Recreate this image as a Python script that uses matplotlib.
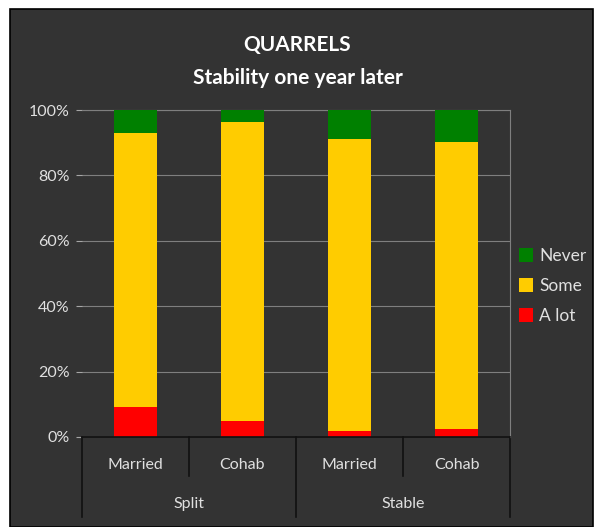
import numpy as np
import matplotlib.pyplot as plt
from matplotlib.patches import Rectangle
from matplotlib.ticker import PercentFormatter

plt.rcParams['font.family'] = ['Lato', 'DejaVu Sans']

# data (shares of each group)
groups = ['Split', 'Stable']
types = ['Married', 'Cohab', 'Married', 'Cohab']
a_lot = [9.2, 5.0, 1.9, 2.5]
some = [83.9, 91.4, 89.3, 87.7]
never = [6.9, 3.6, 8.8, 9.8]

bg = '#333333'
txt = '#e0e0e0'

fig = plt.figure(figsize=(5.95, 5.27), dpi=100, facecolor='white')
# dark chart panel with thin border
fig.patches.append(Rectangle((10/595, 0), 583/595, 518/527, transform=fig.transFigure,
                             facecolor=bg, edgecolor='black', linewidth=1.2, zorder=-5))

ax = fig.add_axes([82/595, 90/527, 428/595, 327/527])
ax.set_facecolor(bg)

x = np.arange(len(types))
w = 0.4
ax.bar(x, a_lot, w, color='#ff0000', label='A lot', zorder=3)
ax.bar(x, some, w, bottom=a_lot, color='#ffcc00', label='Some', zorder=3)
bot2 = np.array(a_lot) + np.array(some)
ax.bar(x, never, w, bottom=bot2, color='#008000', label='Never', zorder=3)

ax.set_xlim(-0.5, 3.5)
ax.set_ylim(0, 100)
ax.set_yticks(np.arange(0, 101, 20))
ax.yaxis.set_major_formatter(PercentFormatter(decimals=0))
ax.tick_params(axis='y', colors='#a6a6a6', labelcolor=txt, labelsize=11.5, length=4, pad=5)
ax.set_xticks([])
ax.grid(axis='y', color='#7f7f7f', linewidth=0.8, zorder=0)

ax.spines['left'].set_visible(False)
ax.spines['top'].set_color('#7f7f7f')
ax.spines['right'].set_color('#7f7f7f')
ax.spines['bottom'].set_color('#111111')
ax.spines['bottom'].set_linewidth(1.2)
ax.spines['bottom'].set_zorder(4)

# multi-level category axis below the plot
tr = ax.get_xaxis_transform()
for i, t in enumerate(types):
    ax.text(i, -0.085, t, transform=tr, ha='center', va='center', color=txt, fontsize=11.5)
for gi, g in enumerate(groups):
    ax.text(gi * 2 + 0.5, -0.205, g, transform=tr, ha='center', va='center', color=txt, fontsize=11.5)
for xv in [-0.5, 1.5, 3.5]:
    ax.plot([xv, xv], [0, -0.245], transform=tr, color='#111111', linewidth=1.2, clip_on=False)
for xv in [0.5, 2.5]:
    ax.plot([xv, xv], [0, -0.12], transform=tr, color='#111111', linewidth=1.2, clip_on=False)

# legend
h, l = ax.get_legend_handles_labels()
leg = fig.legend(h[::-1], l[::-1], loc='center left', bbox_to_anchor=(503/595, 1 - 286/527),
                 frameon=False, fontsize=12.5, labelcolor=txt, handlelength=0.85, handleheight=0.85,
                 handletextpad=0.35, labelspacing=0.8)

fig.text(0.5, 1 - 45/527, 'QUARRELS', ha='center', va='center', color='white',
         fontsize=15, fontweight='bold')
fig.text(0.5, 1 - 78/527, 'Stability one year later', ha='center', va='center', color='white',
         fontsize=15, fontweight='bold')

fig.savefig('out.png', dpi=100, facecolor='white')
